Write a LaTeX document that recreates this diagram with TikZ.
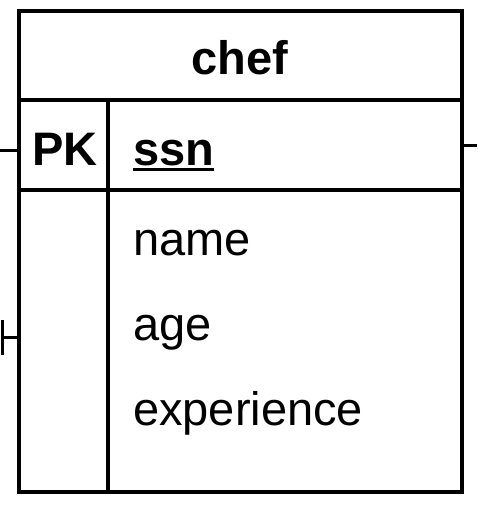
\documentclass[tikz,border=0pt]{standalone}
\usepackage{fontspec}
\setmainfont{Liberation Sans}
\begin{document}
\begin{tikzpicture}[x=1pt,y=-1pt,
  frame/.style={line width=3.3pt,line cap=rect},
  conn/.style={line width=3pt},
  lbl/.style={inner sep=0pt,anchor=base west,font=\fontsize{47}{50}\selectfont},
  blbl/.style={lbl,font=\fontsize{47}{50}\selectfont\bfseries}]
\useasboundingbox (0,0) rectangle (477,508);
% frame
\coordinate (tl) at (19,11);
\coordinate (br) at (462,492);
\draw[frame] (tl) rectangle (br);
\draw[frame] (19,100) -- (462,100);
\draw[frame] (19,190) -- (462,190);
\draw[frame] (108,100) -- (108,492);
% texts
\node[blbl,anchor=base] (title) at (240,75) {chef};
\node[blbl] (pk) at (32,165) {PK};
\node[blbl] (ssn) at (133,165) {ssn};
\draw[line width=3pt] ([yshift=-4.5pt]ssn.base west) -- ([yshift=-4.5pt]ssn.base east);
\node[lbl] (name) at (133,255) {name};
\node[lbl] (age) at (133,340) {age};
\node[lbl] (exp) at (133,425) {experience};
% connectors
\coordinate (l1a) at (0,150);
\coordinate (l1b) at (19,150);
\draw[conn] (l1a) -- (l1b);
\coordinate (r1a) at (462,145);
\coordinate (r1b) at (477,145);
\draw[conn] (r1a) -- (r1b);
\coordinate (l2a) at (2,337);
\coordinate (l2b) at (19,337);
\draw[conn] (l2a) -- (l2b);
\coordinate (t2a) at (2,320);
\coordinate (t2b) at (2,355);
\draw[conn] (t2a) -- (t2b);
\end{tikzpicture}
\end{document}
